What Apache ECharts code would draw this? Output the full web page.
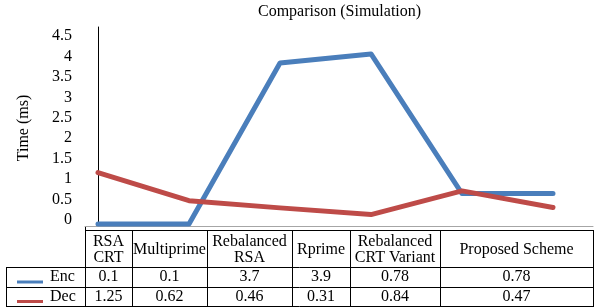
<!DOCTYPE html>
<html>
<head>
<meta charset="utf-8">
<script src="https://cdn.jsdelivr.net/npm/echarts@6/dist/echarts.min.js"></script>
<style>
  html, body { margin: 0; padding: 0; background: #fff; }
  #chart { width: 597px; height: 307px; }
</style>
</head>
<body>
<div id="chart"></div>
<script>
// data
const categories = ['RSA\nCRT', 'Multiprime', 'Rebalanced\nRSA', 'Rprime', 'Rebalanced\nCRT Variant', 'Proposed Scheme'];
const seriesNames = ['Enc', 'Dec'];
const encValues = [0.1, 0.1, 3.7, 3.9, 0.78, 0.78];
const decValues = [1.25, 0.62, 0.46, 0.31, 0.84, 0.47];
const yTickMin = 0;
const yTickMax = 4.5;
const yTickStep = 0.5;

const FONT = 'Liberation Serif';
const FS = 16;
const COLORS = ['#4A7EBB', '#BE4B48'];

// table layout (pixels)
const colEdges = [85, 132, 207, 292, 350, 440, 593];
const labelLeft = 6;
const rowEdges = [230, 267, 287, 306];

const chart = echarts.init(document.getElementById('chart'));

function hline(x1, x2, y, color) {
  return { type: 'line', silent: true, shape: { x1: x1, y1: y + 0.5, x2: x2, y2: y + 0.5 },
    style: { stroke: color || '#000', lineWidth: 1 } };
}
function vline(x, y1, y2) {
  return { type: 'line', silent: true, shape: { x1: x + 0.5, y1: y1, x2: x + 0.5, y2: y2 },
    style: { stroke: '#000', lineWidth: 1 } };
}
function cellText(text, x, y, align) {
  return { type: 'text', silent: true, x: x, y: y,
    style: { text: text, fill: '#000', font: FS + 'px ' + FONT, align: align || 'center',
      verticalAlign: 'middle', lineHeight: 16 } };
}

// build the data table below the plot
const table = [];
table.push(hline(colEdges[0], colEdges[colEdges.length - 1], rowEdges[0]));
for (let r = 1; r < rowEdges.length; r++) {
  table.push(hline(labelLeft, colEdges[colEdges.length - 1], rowEdges[r]));
}
table.push(vline(labelLeft, rowEdges[1], rowEdges[3] + 1));
table.push(vline(colEdges[0], 226, rowEdges[3] + 1));
for (let c = 1; c < colEdges.length; c++) {
  table.push(vline(colEdges[c], rowEdges[0], rowEdges[3] + 1));
}
const rowVals = [encValues, decValues];
categories.forEach((name, i) => {
  const cx = (colEdges[i] + colEdges[i + 1]) / 2;
  table.push(cellText(name, cx, (rowEdges[0] + rowEdges[1]) / 2 + 1));
  rowVals.forEach((vals, r) => {
    table.push(cellText(String(vals[i]), cx, (rowEdges[r + 1] + rowEdges[r + 2]) / 2));
  });
});
seriesNames.forEach((name, r) => {
  const cy = (rowEdges[r + 1] + rowEdges[r + 2]) / 2;
  table.push({ type: 'line', silent: true, shape: { x1: 17, y1: cy + 5, x2: 43, y2: cy + 5 },
    style: { stroke: COLORS[r], lineWidth: 3 } });
  table.push(cellText(name, 50, cy, 'left'));
});

const option = {
  animation: false,
  title: {
    text: 'Comparison (Simulation)',
    left: 258, top: 4, padding: 0,
    textStyle: { fontFamily: FONT, fontSize: FS, fontWeight: 'normal', color: '#000' }
  },
  grid: [
    { left: 85, right: 4, top: 27, height: 199 },
    { left: 85, right: 4, top: 36, height: 184 }
  ],
  xAxis: [
    { type: 'value', gridIndex: 0, min: -0.1429, max: 5.4396,
      axisLine: { show: true, lineStyle: { color: '#A6A6A6', width: 1 } },
      axisTick: { show: false }, axisLabel: { show: false }, splitLine: { show: false } },
    { type: 'value', gridIndex: 1, show: false, min: 0, max: 1 }
  ],
  yAxis: [
    { type: 'value', gridIndex: 0, min: 0.055, max: 4.503,
      axisLine: { show: true, lineStyle: { color: '#000', width: 1 } },
      axisTick: { show: false }, axisLabel: { show: false }, splitLine: { show: false } },
    { type: 'value', gridIndex: 1, min: yTickMin, max: yTickMax, interval: yTickStep,
      name: 'Time (ms)', nameLocation: 'middle', nameRotate: 90, nameGap: 53,
      nameTextStyle: { fontFamily: FONT, fontSize: FS, color: '#000' },
      axisLine: { show: false }, axisTick: { show: false }, splitLine: { show: false },
      axisLabel: { margin: 13, fontFamily: FONT, fontSize: FS, color: '#000' } }
  ],
  series: [encValues, decValues].map((vals, r) => ({
    name: seriesNames[r],
    type: 'line',
    xAxisIndex: 0, yAxisIndex: 0,
    data: vals.map((v, i) => [i, v]),
    symbol: 'none',
    clip: false,
    lineStyle: { color: COLORS[r], width: 5, cap: 'round', join: 'round' },
    itemStyle: { color: COLORS[r] }
  })),
  graphic: { elements: table }
};

chart.setOption(option);
</script>
</body>
</html>
